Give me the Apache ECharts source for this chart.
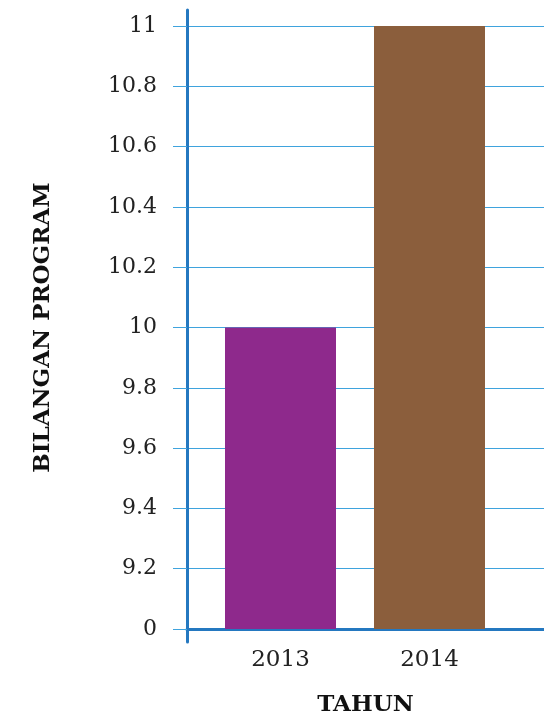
<!DOCTYPE html>
<html><head><meta charset="utf-8">
<script src="https://cdn.jsdelivr.net/npm/echarts@6/dist/echarts.min.js"></script>
<style>html,body{margin:0;padding:0;background:#fff}#c{width:544px;height:718px}</style>
</head><body><div id="c"></div>
<script>
const categories = ['2013', '2014'];
const values = [10, 11];
const barColors = ['#8E298C', '#8B5E3C'];
const tickLabels = ['0', '9.2', '9.4', '9.6', '9.8', '10', '10.2', '10.4', '10.6', '10.8', '11'];
const axisMin = 9, axisMax = 11, axisStep = 0.2;

const font = 'DejaVu Serif';
const chart = echarts.init(document.getElementById('c'));
chart.setOption({
  animation: false,
  grid: [
    {left: 187, right: 0, top: 26, bottom: 89, outerBoundsMode: 'none', containLabel: false},
    {left: 206, right: 40, top: 26, bottom: 89, outerBoundsMode: 'none', containLabel: false},
    {left: 187, right: 0, top: 10, bottom: 76, outerBoundsMode: 'none', containLabel: false}
  ],
  xAxis: [
    {gridIndex: 0, type: 'category', data: [''], axisTick: {show: false}, axisLabel: {show: false},
     axisLine: {lineStyle: {color: '#2478C0', width: 3}},
     name: 'TAHUN', nameLocation: 'middle', nameGap: 65,
     nameTextStyle: {fontFamily: font, fontWeight: 'bold', fontSize: 23, color: '#111'}},
    {gridIndex: 1, type: 'category', data: categories, axisLine: {show: false}, axisTick: {show: false},
     axisLabel: {fontFamily: font, fontSize: 23, color: '#222', margin: 20}},
    {gridIndex: 2, type: 'category', data: [''], show: false}
  ],
  yAxis: [
    {gridIndex: 0, type: 'value', min: axisMin, max: axisMax, interval: axisStep,
     axisLine: {show: false},
     axisTick: {show: true, length: 14, lineStyle: {color: '#3FA3DD', width: 1}},
     splitLine: {lineStyle: {color: '#3FA3DD', width: 1}},
     axisLabel: {fontFamily: font, fontSize: 22, color: '#222', margin: 30,
       formatter: (v, i) => tickLabels[Math.round((v - axisMin) / axisStep)]},
     name: 'BILANGAN PROGRAM', nameLocation: 'middle', nameGap: 132, nameRotate: 90,
     nameTextStyle: {fontFamily: font, fontWeight: 'bold', fontSize: 23, color: '#111'}},
    {gridIndex: 1, type: 'value', min: axisMin, max: axisMax, interval: axisStep, show: false},
    {gridIndex: 2, type: 'value', min: 0, max: 1, axisLine: {show: true, lineStyle: {color: '#2478C0', width: 3}},
     axisTick: {show: false}, axisLabel: {show: false}, splitLine: {show: false}}
  ],
  series: [{
    type: 'bar', xAxisIndex: 1, yAxisIndex: 1, barWidth: '74.5%',
    data: values.map((v, i) => ({value: v, itemStyle: {color: barColors[i]}}))
  }]
});
</script></body></html>
